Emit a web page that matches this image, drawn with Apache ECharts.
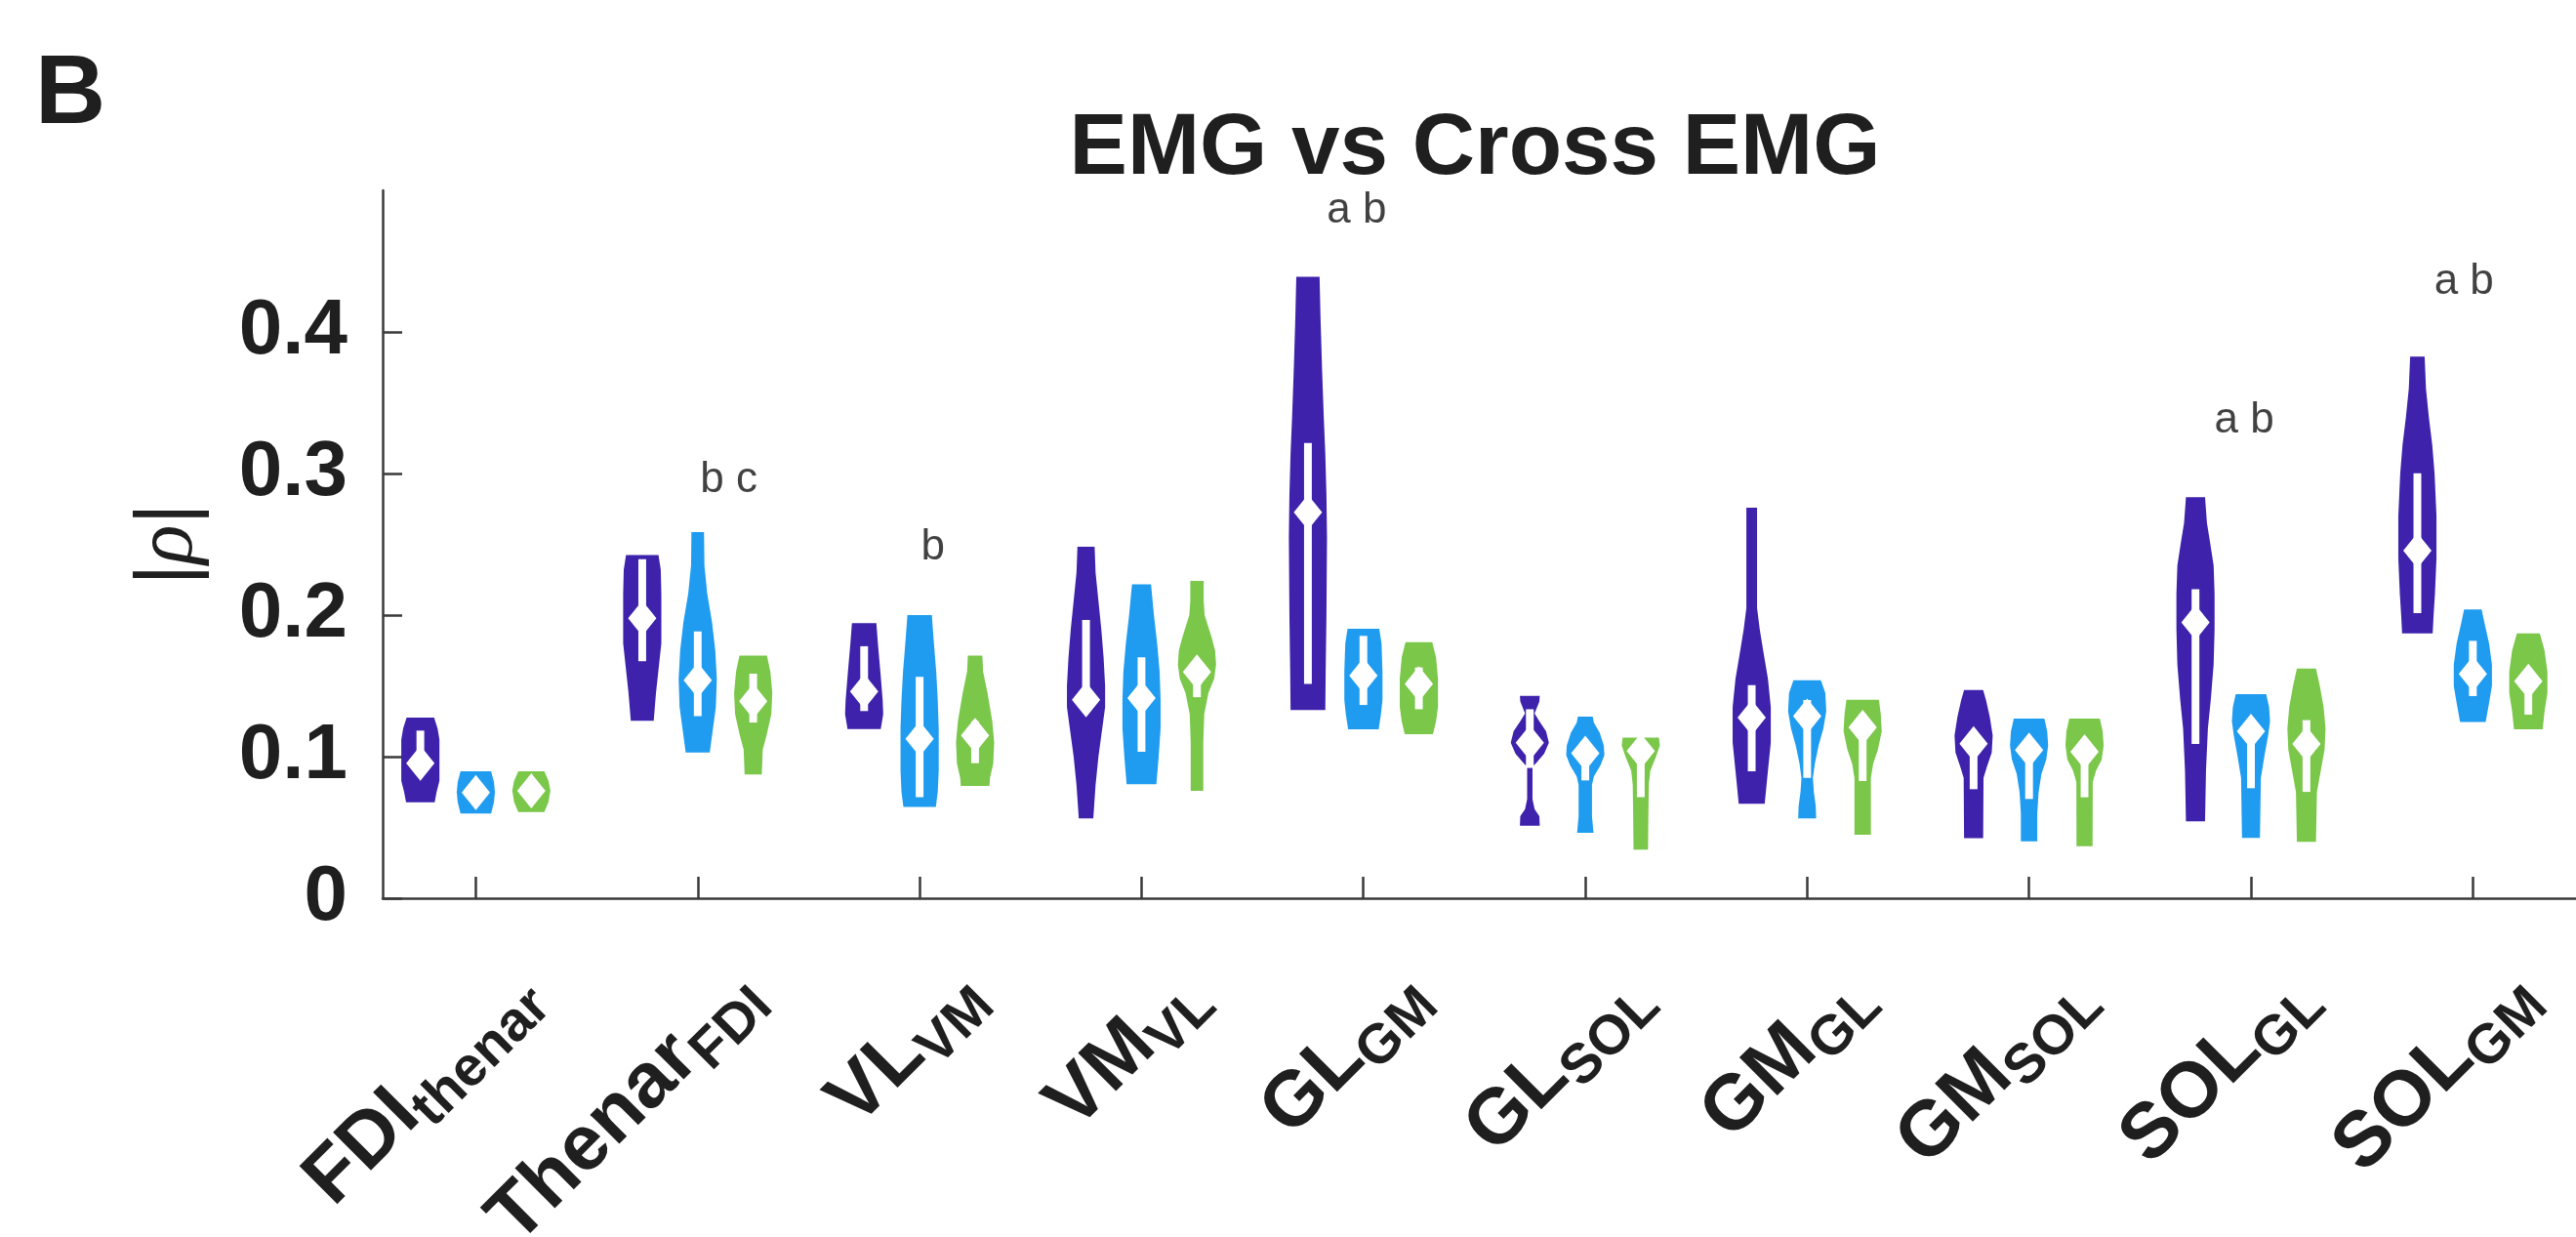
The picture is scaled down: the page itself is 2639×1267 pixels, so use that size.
<!DOCTYPE html>
<html><head><meta charset="utf-8">
<script src="https://cdn.jsdelivr.net/npm/echarts@6/dist/echarts.min.js"></script>
<style>html,body{margin:0;padding:0;background:#fff}#c{width:2639px;height:1267px}</style>
</head><body><div id="c"></div>
<script>
// ---------------- data ----------------
const labelMain = ['FDI','Thenar','VL','VM','GL','GL','GM','GM','SOL','SOL'];
const labelSub  = ['thenar','FDI','VM','VL','GM','SOL','GL','SOL','GL','GM'];
const groupNames = ['Group 1','Group 2','Group 3'];

// violin outlines: [value, relative half-width] from top to bottom
const profile1 = [
  [[0.1276,0.72],[0.12,0.9],[0.112,1.0],[0.083,1.0],[0.075,0.85],[0.0678,0.75]],
  [[0.2425,0.85],[0.232,0.97],[0.215,1.0],[0.18,1.0],[0.165,0.88],[0.145,0.72],[0.1253,0.6]],
  [[0.1943,0.64],[0.18,0.72],[0.16,0.85],[0.14,0.97],[0.13,1.0],[0.1195,0.87]],
  [[0.2483,0.45],[0.23,0.5],[0.21,0.65],[0.19,0.8],[0.17,0.92],[0.15,1.0],[0.135,1.0],[0.12,0.85],[0.1,0.65],[0.08,0.5],[0.0563,0.38]],
  [[0.439,0.61],[0.41,0.66],[0.374,0.74],[0.34,0.83],[0.314,0.91],[0.285,0.97],[0.255,1.0],[0.2,0.97],[0.16,0.93],[0.1329,0.91]],
  [[0.143,0.52],[0.139,0.5],[0.1306,0.25],[0.125,0.5],[0.118,0.85],[0.1099,1.0],[0.102,0.75],[0.095,0.3],[0.093,0.14],[0.07,0.14],[0.063,0.25],[0.058,0.5],[0.0512,0.52]],
  [[0.2759,0.28],[0.205,0.28],[0.19,0.42],[0.175,0.6],[0.155,0.85],[0.135,1.0],[0.11,1.0],[0.09,0.85],[0.0667,0.68]],
  [[0.1471,0.5],[0.14,0.65],[0.128,0.85],[0.115,1.0],[0.103,0.95],[0.093,0.7],[0.085,0.52],[0.0425,0.5]],
  [[0.2833,0.5],[0.265,0.6],[0.25,0.78],[0.235,0.95],[0.215,1.0],[0.19,1.0],[0.165,0.95],[0.14,0.8],[0.12,0.65],[0.09,0.55],[0.0543,0.5]],
  [[0.3826,0.38],[0.36,0.45],[0.34,0.6],[0.32,0.78],[0.3,0.9],[0.27,1.0],[0.24,1.0],[0.215,0.92],[0.2,0.85],[0.187,0.8]]
];
const profile2 = [
  [[0.0897,0.8],[0.082,0.95],[0.075,1.0],[0.068,0.95],[0.0598,0.8]],
  [[0.2586,0.33],[0.235,0.35],[0.215,0.5],[0.195,0.75],[0.175,0.92],[0.155,1.0],[0.135,0.95],[0.12,0.8],[0.103,0.63]],
  [[0.2,0.64],[0.18,0.75],[0.16,0.87],[0.14,0.95],[0.12,1.0],[0.09,1.0],[0.075,0.95],[0.0644,0.85]],
  [[0.2218,0.5],[0.2,0.65],[0.18,0.82],[0.16,0.95],[0.14,1.0],[0.12,1.0],[0.1,0.9],[0.0805,0.78]],
  [[0.1903,0.83],[0.18,0.95],[0.16,1.0],[0.14,1.0],[0.13,0.92],[0.1193,0.8]],
  [[0.1282,0.39],[0.124,0.45],[0.117,0.75],[0.108,0.97],[0.101,1.0],[0.094,0.8],[0.086,0.45],[0.08,0.35],[0.058,0.35],[0.0462,0.43]],
  [[0.154,0.72],[0.145,0.95],[0.132,1.0],[0.12,0.85],[0.108,0.6],[0.095,0.4],[0.085,0.3],[0.075,0.35],[0.065,0.45],[0.0563,0.47]],
  [[0.1269,0.8],[0.118,0.95],[0.108,1.0],[0.098,0.9],[0.088,0.65],[0.075,0.5],[0.06,0.43],[0.0402,0.43]],
  [[0.1441,0.8],[0.135,0.95],[0.125,1.0],[0.115,0.9],[0.1,0.7],[0.085,0.52],[0.0426,0.47]],
  [[0.2039,0.46],[0.195,0.6],[0.18,0.85],[0.165,1.0],[0.15,1.0],[0.138,0.85],[0.1245,0.67]]
];
const profile3 = [
  [[0.0897,0.68],[0.083,0.9],[0.076,1.0],[0.068,0.9],[0.0609,0.68]],
  [[0.1713,0.72],[0.16,0.9],[0.145,1.0],[0.13,0.95],[0.115,0.7],[0.105,0.5],[0.0874,0.45]],
  [[0.1713,0.38],[0.16,0.42],[0.145,0.65],[0.125,0.9],[0.11,1.0],[0.095,0.95],[0.085,0.78],[0.0793,0.75]],
  [[0.2241,0.35],[0.21,0.35],[0.2,0.4],[0.185,0.75],[0.175,0.95],[0.165,1.0],[0.155,0.9],[0.145,0.6],[0.13,0.38],[0.11,0.33],[0.0759,0.33]],
  [[0.1809,0.7],[0.17,0.9],[0.155,1.0],[0.135,1.0],[0.125,0.9],[0.1158,0.74]],
  [[0.1134,0.95],[0.108,1.0],[0.1,0.8],[0.09,0.5],[0.08,0.42],[0.06,0.4],[0.0343,0.38]],
  [[0.1402,0.85],[0.13,0.95],[0.118,1.0],[0.105,0.8],[0.095,0.55],[0.085,0.43],[0.0448,0.43]],
  [[0.1269,0.8],[0.118,0.95],[0.108,1.0],[0.098,0.9],[0.09,0.6],[0.082,0.43],[0.0368,0.42]],
  [[0.1623,0.5],[0.15,0.7],[0.135,0.9],[0.12,1.0],[0.105,0.95],[0.09,0.75],[0.075,0.55],[0.0399,0.5]],
  [[0.187,0.6],[0.175,0.85],[0.16,1.0],[0.145,1.0],[0.132,0.85],[0.1193,0.75]]
];

const median1 = [0.0954,0.1977,0.146,0.1402,0.2726,0.1099,0.1276,0.1092,0.1948,0.2455];
const median2 = [0.0747,0.154,0.1126,0.1414,0.1572,0.1024,0.1287,0.1046,0.118,0.1584];
const median3 = [0.0759,0.1391,0.115,0.1598,0.1513,0.1039,0.1207,0.1034,0.1089,0.1532];

const q1_1 = [0.090,0.1674,0.1322,0.132,0.1513,0.092,0.0897,0.077,0.1089,0.2013];
const q1_2 = [0.071,0.1287,0.0713,0.1034,0.1365,0.0832,0.085,0.0701,0.0777,0.1428];
const q1_3 = [0.072,0.1241,0.0954,0.142,0.1335,0.0714,0.0828,0.0713,0.0751,0.1297];

const q3_1 = [0.1184,0.2395,0.178,0.1966,0.3215,0.1335,0.1506,0.118,0.2182,0.3002];
const q3_2 = [0.08,0.1885,0.1563,0.1701,0.1853,0.11,0.14,0.112,0.126,0.1818];
const q3_3 = [0.08,0.1586,0.125,0.168,0.163,0.108,0.13,0.11,0.1258,0.162];

const yTicks = [0,0.1,0.2,0.3,0.4];
const xTicks = [1,2,3,4,5,6,7,8,9,10];

const sigText = ['b c','b','a b','a b','a b'];
const sigX = [2.14,3.06,4.97,8.97,9.96];
const sigY = [0.2855,0.238,0.476,0.3276,0.4255];

// ---------------- styling / layout ----------------
const FONT = "'Liberation Sans', Arial, Helvetica, sans-serif";
const TXT = '#1f1f1f';
const AX = '#3a3a3a';
const colors = ['#3E22AC','#1F9CF0','#7AC74A'];
const groupOffsets = [-0.25, 0, 0.25];
const HALF = 0.086;     // max half width of a violin (x units)
const BOXHALF = 0.0175; // half width of IQR box (x units)

const profiles = [profile1, profile2, profile3];
const medians = [median1, median2, median3];
const q1s = [q1_1, q1_2, q1_3];
const q3s = [q3_1, q3_2, q3_3];

function violinSeries(gi) {
  return {
    type: 'custom',
    name: groupNames[gi],
    clip: false,
    z: 2,
    data: medians[gi].map((m, i) => [xTicks[i], m, q1s[gi][i], q3s[gi][i]]),
    encode: { x: 0, y: [1, 2, 3] },
    renderItem: function (params, api) {
      const i = params.dataIndex;
      const cx = api.value(0) + groupOffsets[gi];
      const prof = profiles[gi][i];
      const right = prof.map(p => api.coord([cx + p[1] * HALF, p[0]]));
      const left = prof.slice().reverse().map(p => api.coord([cx - p[1] * HALF, p[0]]));
      const tl = api.coord([cx - BOXHALF, api.value(3)]);
      const br = api.coord([cx + BOXHALF, api.value(2)]);
      return {
        type: 'group',
        children: [
          { type: 'polygon', shape: { points: right.concat(left) }, style: { fill: colors[gi] } },
          { type: 'rect', shape: { x: tl[0], y: tl[1], width: br[0] - tl[0], height: br[1] - tl[1] }, style: { fill: '#ffffff' } }
        ]
      };
    }
  };
}

function medianSeries(gi) {
  return {
    type: 'scatter',
    name: groupNames[gi] + ' median',
    z: 4,
    symbol: 'diamond',
    symbolSize: [29, 36],
    itemStyle: { color: '#ffffff', opacity: 1 },
    data: medians[gi].map((m, i) => [xTicks[i] + groupOffsets[gi], m])
  };
}

const series = [];
for (let g = 0; g < 3; g++) series.push(violinSeries(g));
for (let g = 0; g < 3; g++) series.push(medianSeries(g));
series.push({
  type: 'scatter',
  name: 'significance',
  symbolSize: 0,
  z: 5,
  data: sigX.map((x, k) => [x, sigY[k]]),
  label: {
    show: true,
    position: 'top',
    distance: -8,
    formatter: p => sigText[p.dataIndex],
    fontSize: 44,
    fontFamily: FONT,
    color: '#111111'
  }
});

const option = {
  backgroundColor: '#ffffff',
  animation: false,
  title: {
    text: 'EMG vs Cross EMG',
    left: 1506,
    top: 104,
    textAlign: 'center',
    textStyle: { fontSize: 89, fontWeight: 'bold', fontFamily: FONT, color: TXT }
  },
  graphic: [{
    type: 'text',
    left: 36,
    top: 48,
    style: { text: 'B', fontSize: 100, fontWeight: 'bold', fontFamily: FONT, fill: TXT }
  }],
  grid: { left: 392, top: 195, width: 2255, height: 725, containLabel: false, outerBoundsMode: 'none' },
  xAxis: {
    type: 'value',
    min: 0.58,
    max: 10.5,
    splitLine: { show: false },
    axisLine: { show: true, onZero: false, lineStyle: { color: AX, width: 2.5 } },
    axisTick: { show: true, inside: true, length: 22, customValues: xTicks, lineStyle: { color: AX, width: 2.5 } },
    axisLabel: {
      customValues: xTicks,
      rotate: 45,
      margin: 34,
      padding: [150, 0, 0, 0],
      formatter: v => { const i = Math.round(v) - 1; return '{m|' + labelMain[i] + '}{s|' + labelSub[i] + '}'; },
      rich: {
        m: { fontSize: 80, fontWeight: 'bold', fontFamily: FONT, color: TXT },
        s: { fontSize: 57, fontWeight: 'bold', fontFamily: FONT, color: TXT, padding: [42, 0, 0, 0] }
      }
    }
  },
  yAxis: {
    type: 'value',
    min: 0,
    max: 0.5,
    interval: 0.1,
    splitLine: { show: false },
    axisLine: { show: true, lineStyle: { color: AX, width: 2.5 } },
    axisTick: { show: true, inside: true, length: 20, customValues: yTicks, lineStyle: { color: AX, width: 2.5 } },
    axisLabel: {
      customValues: yTicks,
      margin: 36,
      formatter: v => (v === 0 ? '0' : v.toFixed(1)),
      fontSize: 80, fontWeight: 'bold', fontFamily: FONT, color: TXT
    },
    name: '|{r|ρ}|',
    nameLocation: 'middle',
    nameRotate: 90,
    nameGap: 176,
    nameTextStyle: {
      fontSize: 84, fontFamily: FONT, color: TXT,
      rich: { r: { fontSize: 84, fontStyle: 'italic', fontFamily: "'Liberation Serif', 'DejaVu Serif', serif", color: TXT } }
    }
  },
  series: series
};

const chart = echarts.init(document.getElementById('c'), null, { renderer: 'canvas' });
chart.setOption(option);
</script>
</body></html>
